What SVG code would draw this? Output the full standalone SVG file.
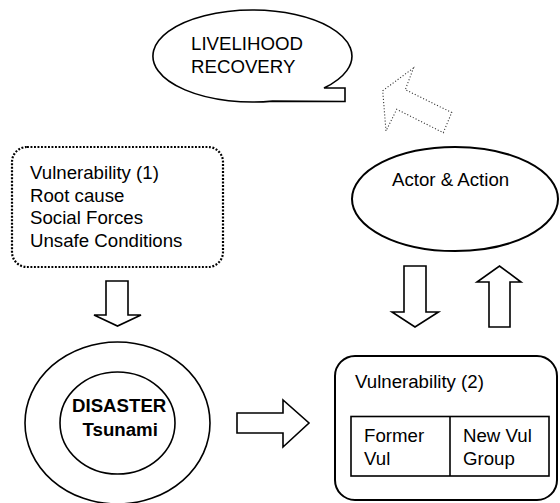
<svg xmlns="http://www.w3.org/2000/svg" width="560" height="503" viewBox="0 0 560 503">
  <style>
    .shape { fill: #fff; stroke: #000; stroke-width: 1.6; }
    .thick { stroke-width: 2; }
    .dotbox { fill: #fff; stroke: #000; stroke-width: 2.2; stroke-dasharray: 1.9 1.6; }
    .dotarrow { fill: #fff; stroke: #333; stroke-width: 1.1; stroke-dasharray: 1.1 2; }
    .arrow { fill: #fff; stroke: #000; stroke-width: 1.6; stroke-linejoin: miter; }
    text { font-family: "Liberation Sans", Arial, sans-serif; font-size: 18.67px; fill: #000; }
    .bold { font-weight: bold; }
  </style>
  <rect width="560" height="503" fill="#fff"/>

  <!-- Callout: livelihood recovery -->
  <g id="livelihood-recovery">
    <path class="shape" d="M 272.5 101.1 L 345 101.5 L 345 88 L 324 88 A 99.5 46 0 1 0 272.5 101.1 Z"/>
    <text x="191" y="50">LIVELIHOOD</text>
    <text x="191" y="73">RECOVERY</text>
  </g>

  <!-- Vulnerability (1) -->
  <g id="vulnerability-1">
    <rect class="dotbox" x="12" y="147" width="211" height="120" rx="15" ry="15"/>
    <text x="30" y="179">Vulnerability (1)</text>
    <text x="30" y="201.7">Root cause</text>
    <text x="30" y="224.3">Social Forces</text>
    <text x="30" y="247">Unsafe Conditions</text>
  </g>

  <!-- Actor & Action -->
  <g id="actor-action">
    <ellipse class="shape thick" cx="455" cy="199" rx="103" ry="52"/>
    <text x="392" y="186">Actor &amp; Action</text>
  </g>

  <!-- Disaster -->
  <g id="disaster">
    <ellipse class="shape" cx="117.5" cy="423" rx="92.5" ry="81"/>
    <ellipse class="shape" cx="117.5" cy="423" rx="57.5" ry="51"/>
    <text class="bold" x="72" y="412">DISASTER</text>
    <text class="bold" x="82.5" y="436">Tsunami</text>
  </g>

  <!-- Vulnerability (2) -->
  <g id="vulnerability-2">
    <rect class="shape thick" x="335" y="356" width="222" height="144" rx="20" ry="20"/>
    <text x="355" y="388">Vulnerability (2)</text>
    <rect class="shape" x="351" y="416.5" width="198" height="59.5"/>
    <line class="shape" x1="450" y1="416.5" x2="450" y2="476"/>
    <text x="364" y="442">Former</text>
    <text x="364" y="465">Vul</text>
    <text x="463" y="442">New Vul</text>
    <text x="463" y="465">Group</text>
  </g>

  <!-- Connectors: block arrows -->
  <g id="connectors">
    <!-- Vulnerability (1) down to Disaster -->
    <polygon class="arrow" points="106,281 128,281 128,315 141,315 117.5,326 94,315 106,315"/>
    <!-- Disaster to Vulnerability (2) -->
    <polygon class="arrow" points="237,413 283,413 283,400 309,423 283,447 283,433 237,433"/>
    <!-- Actor & Action down to Vulnerability (2) -->
    <polygon class="arrow" points="404,266 426,266 426,312 438.5,312 415,327 392,312 404,312"/>
    <!-- Vulnerability (2) up to Actor & Action -->
    <polygon class="arrow" points="489,327 510,327 510,282 521,282 499.5,266 477,282 489,282"/>
    <!-- Actor & Action toward Livelihood Recovery (dotted) -->
    <polygon class="dotarrow" points="413.5,68 382.7,90.7 386,131 396.7,109.3 443.3,132.7 451.7,112.5 405.3,89.7"/>
  </g>
</svg>
